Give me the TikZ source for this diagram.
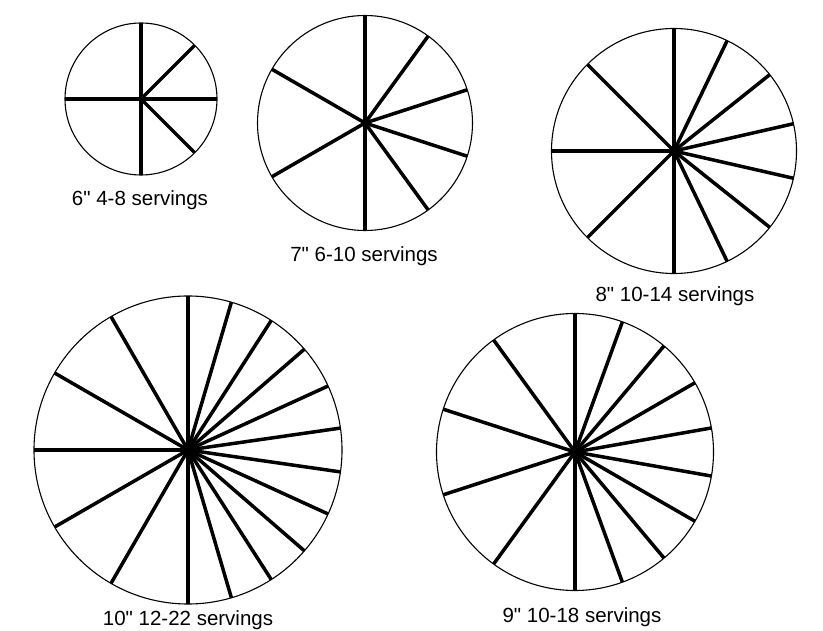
\documentclass[tikz,border=0pt]{standalone}
\usepackage{fontspec}
\setmainfont{Liberation Sans}[Ligatures=TeXOff]
\usepackage{tikz}

\tikzset{
    cake/.style={line width=1.1pt},
    cut/.style={line width=3.5pt},
    servings/.style={anchor=base, font=\fontsize{20.5}{23}\selectfont}
}

\begin{document}
\begin{tikzpicture}[x=1pt,y=1pt]
    \useasboundingbox (0,0) rectangle (823,630);

    % 6 inch
    \coordinate (c6) at (141,531);
    \draw[cake] (c6) circle (76);
    \foreach \a in {90,270,180,0,45,-45}
        \draw[cut] (c6)--++(\a:76);
    \node[servings] (l6) at (140,424) {6" 4-8 servings};

    % 7 inch
    \coordinate (c7) at (365,507);
    \draw[cake] (c7) circle (107.5);
    \foreach \a in {90,270,150,210,54,18,-18,-54}
        \draw[cut] (c7)--++(\a:107.5);
    \node[servings] (l7) at (364,368) {7" 6-10 servings};

    % 8 inch
    \coordinate (c8) at (674,479);
    \draw[cake] (c8) circle (122.5);
    \foreach \a in {90,270,135,180,225}
        \draw[cut] (c8)--++(\a:122.5);
    \foreach \k in {1,...,6}
        \draw[cut] (c8)--++({90-\k*180/7}:122.5);
    \node[servings] (l8) at (675,328) {8" 10-14 servings};

    % 10 inch
    \coordinate (c10) at (188,180);
    \draw[cake] (c10) circle (154);
    \foreach \a in {90,270,120,150,180,210,240}
        \draw[cut] (c10)--++(\a:154);
    \foreach \k in {1,...,10}
        \draw[cut] (c10)--++({90-\k*180/11}:154);
    \node[servings] (l10) at (188,4.5) {10" 12-22 servings};

    % 9 inch
    \coordinate (c9) at (575,178);
    \draw[cake] (c9) circle (138.5);
    \foreach \a in {90,270,126,162,198,234}
        \draw[cut] (c9)--++(\a:138.5);
    \foreach \a in {70,50,...,-70}
        \draw[cut] (c9)--++(\a:138.5);
    \node[servings] (l9) at (582,8) {9" 10-18 servings};

\end{tikzpicture}
\end{document}
